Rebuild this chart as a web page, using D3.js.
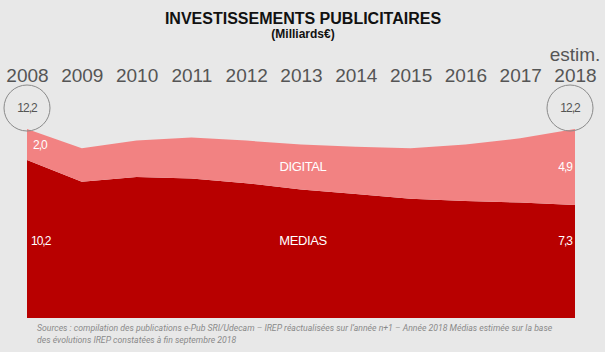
<!DOCTYPE html>
<html>
<head>
  <title>Investissements publicitaires</title>
  <script src="https://d3js.org/d3.v7.min.js"></script>
  <style>
    body { margin: 0; background: #e8e8e8; font-family: "Liberation Sans", Arial, sans-serif; }
    .title { font-size: 16px; font-weight: bold; text-anchor: middle; fill: #111; }
    .subtitle { font-size: 12px; font-weight: bold; text-anchor: middle; fill: #111; }
    .axis path, .axis line { display: none; }
    .axis text { font-size: 19px; fill: #555; font-family: "Liberation Sans", Arial, sans-serif; }
    .val { font-size: 12px; fill: #fff; letter-spacing: -1px; }
    .series { font-size: 13px; fill: #fff; text-anchor: middle; letter-spacing: -0.4px; }
    .source { font-family: Roboto, sans-serif; font-style: italic; font-size: 8.7px; fill: #8a8a8a; }
  </style>
</head>
<body>
  <div id="chart"></div>
  <script>
    const years = [2008, 2009, 2010, 2011, 2012, 2013, 2014, 2015, 2016, 2017, 2018];
    const medias = [10.2, 8.8, 9.1, 9.0, 8.7, 8.3, 8.0, 7.7, 7.55, 7.45, 7.3];
    const digital = [2.0, 2.15, 2.35, 2.65, 2.75, 2.9, 3.05, 3.25, 3.65, 4.15, 4.9];
    const totals = ["12,2", "12,2"];

    const W = 605, H = 352;
    const svg = d3.select("#chart").append("svg")
      .attr("width", W).attr("height", H);

    svg.append("rect").attr("width", W).attr("height", H).attr("fill", "#e8e8e8");

    const x = d3.scaleLinear().domain([2008, 2018]).range([27, 575]);
    const y = d3.scaleLinear().domain([0, 12.2]).range([318, 129]);

    const data = years.map((yr, i) => ({year: yr, medias: medias[i], digital: digital[i]}));
    const stack = d3.stack().keys(["medias", "digital"]);
    const layers = stack(data);
    const colors = {medias: "#b80000", digital: "#f28282"};

    const area = d3.area()
      .x(d => x(d.data.year))
      .y0(d => y(d[0]))
      .y1(d => y(d[1]));

    svg.selectAll(".layer")
      .data(layers)
      .enter().append("path")
        .attr("class", "layer")
        .attr("fill", d => colors[d.key])
        .attr("d", area);

    // titles
    svg.append("text").attr("class", "title")
      .attr("x", 303).attr("y", 24)
      .text("INVESTISSEMENTS PUBLICITAIRES");
    svg.append("text").attr("class", "subtitle")
      .attr("x", 303).attr("y", 38)
      .text("(Milliards€)");

    // year axis
    svg.append("g")
      .attr("class", "axis")
      .attr("transform", "translate(0,82)")
      .call(d3.axisTop(x).tickValues(years).tickFormat(d3.format("d")).tickSize(0).tickPadding(0));

    svg.append("text")
      .attr("x", x(2018)).attr("y", 61)
      .attr("text-anchor", "middle")
      .style("font-size", "19px").style("fill", "#555")
      .text("estim.");

    // total circles
    const circ = [{year: 2008, dx: 0, label: totals[0]}, {year: 2018, dx: -5, label: totals[1]}];
    const cg = svg.selectAll(".tot").data(circ).enter().append("g")
      .attr("transform", d => `translate(${x(d.year) + d.dx},108)`);
    cg.append("circle").attr("r", 23).attr("fill", "none").attr("stroke", "#8a8a8a").attr("stroke-width", 1);
    cg.append("text").attr("text-anchor", "middle").attr("dy", "0.35em")
      .style("font-size", "12px").style("fill", "#555").style("letter-spacing", "-1px")
      .text(d => d.label);

    const fmt = v => d3.format(".1f")(v).replace(".", ",");
    const last = data.length - 1;

    // value labels
    svg.append("text").attr("class", "val").attr("x", x(2008) + 6).attr("y", y(medias[0] + digital[0] / 2) + 5)
      .text(fmt(digital[0]));
    svg.append("text").attr("class", "val").attr("x", x(2008) + 4).attr("y", 245)
      .text(fmt(medias[0]));
    svg.append("text").attr("class", "val").attr("text-anchor", "end").attr("x", x(2018) - 3).attr("y", 171)
      .text(fmt(digital[last]));
    svg.append("text").attr("class", "val").attr("text-anchor", "end").attr("x", x(2018) - 3).attr("y", 245)
      .text(fmt(medias[last]));

    svg.append("text").attr("class", "series").attr("x", 303).attr("y", 171).text("DIGITAL");
    svg.append("text").attr("class", "series").attr("x", 303).attr("y", 245).text("MEDIAS");

    // source
    svg.append("text").attr("class", "source").attr("x", 37).attr("y", 331)
      .text("Sources : compilation des publications e-Pub SRI/Udecam – IREP réactualisées sur l’année n+1 – Année 2018 Médias estimée sur la base");
    svg.append("text").attr("class", "source").attr("x", 37).attr("y", 343)
      .text("des évolutions IREP constatées à fin septembre 2018");
  </script>
</body>
</html>
